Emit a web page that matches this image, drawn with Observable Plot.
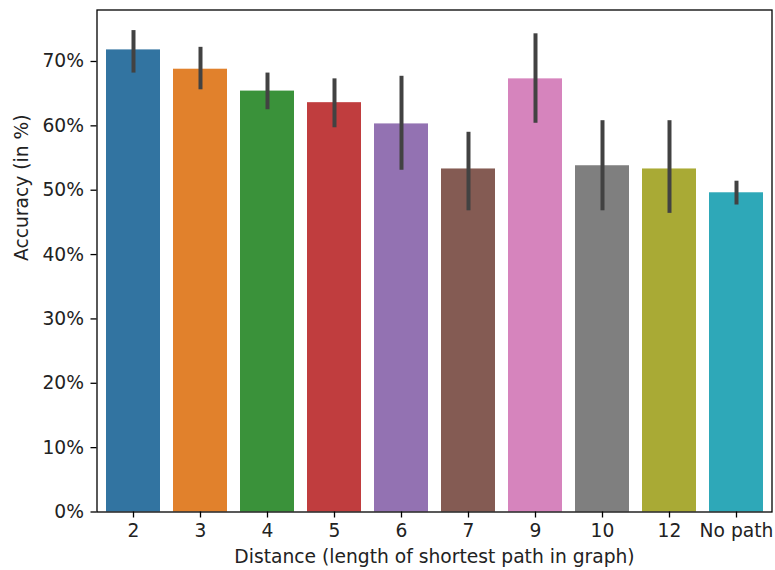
<!DOCTYPE html>
<html><head><meta charset="utf-8">
<script src="https://cdn.jsdelivr.net/npm/d3@7"></script>
<script src="https://cdn.jsdelivr.net/npm/@observablehq/plot@0.6"></script>
<style>
body{margin:0;background:#fff;}
svg{font-family:"DejaVu Sans",sans-serif !important;}
svg text{font-size:18.7px !important;font-family:"DejaVu Sans",sans-serif !important;}
</style>
</head><body><div id="chart"></div>
<script>
const categories = ["2","3","4","5","6","7","9","10","12","No path"];
const accuracy = [0.718, 0.688, 0.654, 0.636, 0.603, 0.533, 0.673, 0.538, 0.533, 0.496];
const ciLow  = [0.682, 0.656, 0.625, 0.597, 0.531, 0.468, 0.604, 0.468, 0.464, 0.477];
const ciHigh = [0.748, 0.722, 0.682, 0.673, 0.677, 0.590, 0.743, 0.608, 0.608, 0.514];
const colors = ["#3274a1","#e1812c","#3a923a","#c03d3e","#9372b2","#845b53","#d684bd","#7f7f7f","#a9aa35","#2ea8b8"];
const yTicks = [0,0.1,0.2,0.3,0.4,0.5,0.6,0.7];
const xLabel = "Distance (length of shortest path in graph)";
const yLabel = "Accuracy (in %)";

const data = categories.map((c,i)=>({cat:c, acc:accuracy[i], lo:ciLow[i], hi:ciHigh[i], color:colors[i]}));

const chart = Plot.plot({
  width: 775, height: 570,
  marginLeft: 96.5, marginRight: 3.5, marginTop: 9.5, marginBottom: 58.5,
  style: {fontFamily: "DejaVu Sans, sans-serif", fontSize: "18.7px", color: "#000", background: "#fff"},
  x: {type: "band", domain: categories, paddingInner: 0.2, paddingOuter: 0.1, label: null},
  y: {domain: [0, 0.78], label: null},
  marks: [
    Plot.barY(data, {x: "cat", y: "acc", fill: "color"}),
    Plot.ruleX(data, {x: "cat", y1: "lo", y2: "hi", stroke: "#424242", strokeWidth: 4}),
    Plot.frame({stroke: "#000", strokeWidth: 1.3}),
    Plot.axisY({ticks: yTicks, tickFormat: d3.format(".0%"), tickSize: 6, tickPadding: 7, label: null, fill: "#222", strokeWidth: 1.3}),
    Plot.axisX({tickSize: 6, tickPadding: 6, label: null, fill: "#222", strokeWidth: 1.3}),
    Plot.text([xLabel], {frameAnchor: "bottom", dy: 45.5, lineAnchor: "middle", text: d=>d, fill: "#222"}),
    Plot.text([yLabel], {frameAnchor: "left", dx: -75, rotate: -90, lineAnchor: "middle", text: d=>d, fill: "#222"})
  ]
});
document.getElementById("chart").append(chart);
</script>
</body></html>
